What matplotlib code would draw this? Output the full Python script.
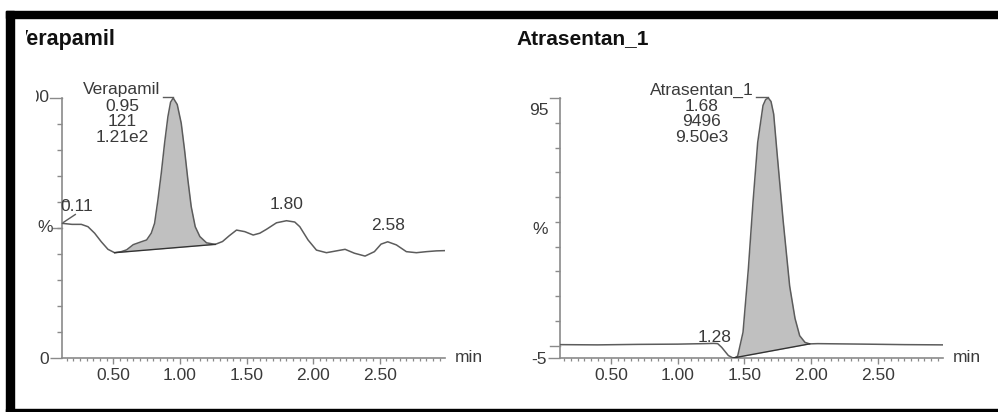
import matplotlib
matplotlib.use("Agg")
import matplotlib.pyplot as plt
import numpy as np
from matplotlib.patches import Rectangle
from matplotlib.transforms import Bbox, TransformedBbox
from matplotlib.ticker import MultipleLocator, FixedLocator

plt.rcParams['font.family'] = ['Liberation Sans', 'DejaVu Sans']

W, H = 998, 412

# Verapamil trace (time in min, intensity in %)
vera_t = [0.115, 0.19, 0.26, 0.31, 0.36, 0.41, 0.46, 0.51, 0.56, 0.60, 0.65, 0.71,
          0.75, 0.785, 0.81, 0.835, 0.86, 0.885, 0.91, 0.93, 0.95, 0.98, 1.01,
          1.035, 1.06, 1.085, 1.115, 1.15, 1.20, 1.265, 1.32, 1.37, 1.425, 1.487,
          1.55, 1.60, 1.65, 1.725, 1.80, 1.862, 1.90, 1.962, 2.025, 2.10, 2.175,
          2.24, 2.31, 2.39, 2.46, 2.51, 2.56, 2.625, 2.70, 2.775, 2.85, 2.925, 2.99]
vera_y = [51.8, 51.4, 51.4, 50.5, 48.0, 44.7, 41.8, 40.5, 40.9, 41.6, 43.6, 44.7,
          45.4, 48.0, 51.8, 60.8, 71.0, 82.6, 92.8, 98.4, 100.0, 97.5, 90.3,
          80.0, 68.5, 58.2, 50.5, 46.7, 44.3, 43.7, 44.8, 47.0, 49.2, 48.6,
          47.3, 48.0, 49.5, 52.0, 52.8, 52.3, 50.5, 45.4, 41.5, 40.5, 41.2,
          41.8, 40.3, 39.2, 40.9, 43.8, 44.7, 43.5, 40.9, 40.5, 40.9, 41.2, 41.3]
vera_base = (0.51, 1.265)
vera_peak = ['Verapamil', '0.95', '121', '1.21e2']
vera_marks = [(0.225, 58.3, '0.11'), (1.80, 59.0, '1.80'), (2.56, 51.0, '2.58')]

# Atrasentan_1 trace
atra_t = [0.115, 0.40, 0.70, 1.00, 1.20, 1.27, 1.30, 1.33, 1.38, 1.415, 1.43, 1.45,
          1.49, 1.53, 1.565, 1.60, 1.64, 1.66, 1.68, 1.70, 1.72, 1.745, 1.79,
          1.84, 1.88, 1.915, 1.955, 1.99, 2.05, 2.40, 2.70, 2.99]
atra_y = [0.4, 0.3, 0.5, 0.6, 0.8, 0.9, 0.8, -0.7, -4.0, -5.0, -4.9, -4.2,
          5.4, 31.0, 58.0, 82.0, 97.0, 99.4, 100.0, 98.6, 93.5, 78.0, 51.0,
          24.0, 11.0, 4.0, 1.3, 0.7, 0.8, 0.6, 0.4, 0.3]
atra_base = (1.415, 1.99)
atra_peak = ['Atrasentan_1', '1.68', '9496', '9.50e3']
atra_marks = [(1.275, 3.4, '1.28')]

LINE = '#5c5c5c'
AXC = '#8a8a8a'
TXT = '#3a3a3a'
FILL = '#c0c0c0'
FS = 12.5

fig = plt.figure(figsize=(W / 100, H / 100), dpi=100)
fig.patch.set_facecolor('white')


def px_axes(x0, y0, x1, y1):
    return fig.add_axes([x0 / W, 1 - y1 / H, (x1 - x0) / W, (y1 - y0) / H])


def px_clip(x0, y0, x1, y1):
    return TransformedBbox(Bbox.from_extents(x0 / W, 1 - y1 / H, x1 / W, 1 - y0 / H),
                           fig.transFigure)


def setup(ax, ymin, ymax):
    ax.set_xlim(0.115, 2.99)
    ax.set_ylim(ymin, ymax)
    ax.patch.set_alpha(0)
    for s in ['top', 'right']:
        ax.spines[s].set_visible(False)
    for s in ['left', 'bottom']:
        ax.spines[s].set_color(AXC)
        ax.spines[s].set_linewidth(1.2)
    ax.xaxis.set_major_locator(FixedLocator([0.5, 1.0, 1.5, 2.0, 2.5]))
    ax.xaxis.set_minor_locator(MultipleLocator(0.05))
    ax.xaxis.set_major_formatter(plt.FuncFormatter(lambda v, p: f'{v:.2f}'))
    ax.yaxis.set_minor_locator(FixedLocator(list(range(10, 100, 10))))
    ax.tick_params(axis='x', which='major', direction='out', length=4.5, width=1,
                   color=AXC, labelsize=FS, labelcolor=TXT, pad=2.5)
    ax.tick_params(axis='x', which='minor', direction='out', length=2.3, width=0.9,
                   color=AXC)
    ax.tick_params(axis='y', which='major', direction='out', length=8.5, width=1,
                   color=AXC, labelsize=FS, labelcolor=TXT, pad=0.5)
    ax.tick_params(axis='y', which='minor', direction='out', length=3.6, width=1,
                   color=AXC)


def draw_trace(ax, t, y, base):
    t = np.asarray(t)
    y = np.asarray(y)
    ax.plot(t, y, color=LINE, lw=1.1, zorder=3, solid_joinstyle='round')
    m = (t >= base[0]) & (t <= base[1])
    tb = t[m]
    yb = np.interp(tb, [base[0], base[1]], [y[m][0], y[m][-1]])
    ax.fill_between(tb, yb, y[m], color=FILL, lw=0, zorder=2)
    ax.plot([tb[0], tb[-1]], [yb[0], yb[-1]], color='#333333', lw=1.0, zorder=3)


def peak_label(ax, xc, ys, lines, lead):
    for yy, s in zip(ys, lines):
        ax.text(xc, yy, s, ha='center', va='center', fontsize=FS, color=TXT,
                clip_on=False)
    ax.plot(lead, [100.4, 100.4], color=LINE, lw=1.0, clip_on=False)


# left panel
axl = px_axes(62, 98, 445, 358)
setup(axl, 0, 100)
axl.set_yticks([0])
axl.set_yticklabels(['0'])
draw_trace(axl, vera_t, vera_y, vera_base)
peak_label(axl, 0.566, [103.3, 96.6, 90.8, 84.9], vera_peak, [0.875, 0.95])
for tm, yy, s in vera_marks:
    axl.text(tm, yy, s, ha='center', va='center', fontsize=FS, color=TXT)
axl.plot([0.115, 0.215], [51.8, 55.2], color=LINE, lw=1.0, clip_on=False)
axl.plot([0.115, 0.115, 0.16], [57.6, 60.2, 60.2], color=LINE, lw=1.0, clip_on=False)
# y-axis top tick and clipped label
axl.plot([0.025, 0.115], [100, 100], color=AXC, lw=1.0, clip_on=False)
axl.plot([0.05, 0.115], [50, 50], color=AXC, lw=1.0, clip_on=False)
lab = axl.text(0.022, 100, '100', ha='right', va='center', fontsize=FS, color=TXT)
lab.set_clip_box(px_clip(36, 0, 200, 412))
lab.set_clip_on(True)
axl.text(0.045, 50, '%', ha='right', va='center', fontsize=FS, color=TXT)
axl.text(3.06, 0, 'min', ha='left', va='center', fontsize=FS, color=TXT)

# right panel
axr = px_axes(559.7, 98, 943, 358)
setup(axr, -5, 100)
axr.set_yticks([-5])
axr.set_yticklabels(['-5'])
draw_trace(axr, atra_t, atra_y, atra_base)
peak_label(axr, 1.182, [103.1, 96.6, 90.4, 84.1], atra_peak, [1.585, 1.675])
for tm, yy, s in atra_marks:
    axr.text(tm, yy, s, ha='center', va='center', fontsize=FS, color=TXT)
axr.plot([0.04, 0.115], [100, 100], color=AXC, lw=1.0, clip_on=False)
axr.plot([0.04, 0.115], [0, 0], color=AXC, lw=1.0, clip_on=False)
axr.text(0.035, 95, '95', ha='right', va='center', fontsize=FS, color=TXT)
axr.text(0.03, 47, '%', ha='right', va='center', fontsize=FS, color=TXT)
axr.text(3.06, -5, 'min', ha='left', va='center', fontsize=FS, color=TXT)

# titles
t1 = fig.text(14 / W, 1 - 39 / H, 'Verapamil', ha='left', va='center',
              fontsize=15.5, fontweight='bold', color='#111111')
t1.set_clip_box(px_clip(25.5, 0, 500, 412))
t1.set_clip_on(True)
fig.text(516 / W, 1 - 39 / H, 'Atrasentan_1', ha='left', va='center',
         fontsize=15, fontweight='bold', color='#111111')

# scanned black frame
fig.patches.append(Rectangle((6 / W, 1 - 18 / H), 1, 7 / H, transform=fig.transFigure,
                             color='black', zorder=10))
fig.patches.append(Rectangle((6 / W, 0), 8 / W, 1 - 11 / H, transform=fig.transFigure,
                             color='black', zorder=10))
fig.patches.append(Rectangle((6 / W, 0), 1, 3.5 / H, transform=fig.transFigure,
                             color='black', zorder=10))

fig.savefig('out.png', dpi=100, facecolor='white')
